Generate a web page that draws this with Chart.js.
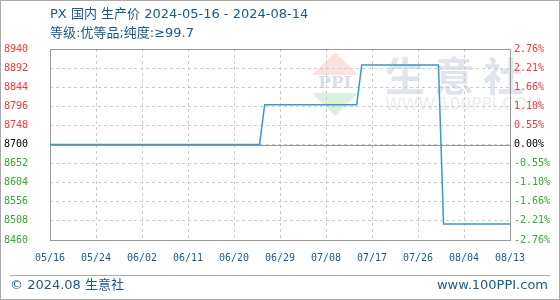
<!DOCTYPE html>
<html>
<head>
<meta charset="utf-8">
<title>PX 国内 生产价</title>
<script src="https://cdn.jsdelivr.net/npm/chart.js@4/dist/chart.umd.min.js"></script>
<style>
  html, body { margin: 0; padding: 0; background: #fff; }
  canvas { display: block; }
</style>
</head>
<body>
<canvas id="pxChart" width="560" height="300"></canvas>
<script>
// ===== Chart data =====
const titleText = 'PX 国内 生产价 2024-05-16 - 2024-08-14';
const subtitleText = '等级:优等品;纯度:≥99.7';
const footerLeft = '© 2024.08 生意社';
const footerRight = 'www.100PPI.com';

// x axis: day offset from 05/16, one label every 9 points
const xTickLabels = ['05/16', '05/24', '06/02', '06/11', '06/20', '06/29', '07/08', '07/17', '07/26', '08/04', '08/13'];

// price series (day offset -> price)
const dayIndex = [0, 41, 42, 60, 61, 76, 77, 90];
const prices = [8700, 8700, 8800, 8800, 8900, 8900, 8500, 8500];

// y axis ticks
const yTicks = [8460, 8508, 8556, 8604, 8652, 8700, 8748, 8796, 8844, 8892, 8940];
const pctLabels = ['-2.76%', '-2.21%', '-1.66%', '-1.10%', '-0.55%', '0.00%', '0.55%', '1.10%', '1.66%', '2.21%', '2.76%'];
const basePrice = 8700;

const RED = '#ff3333';
const GREEN = '#33aa33';
const BLUE_TEXT = '#1b5a8a';
const TICK_FONT = { family: '"DejaVu Sans Mono", monospace', size: 10 };

function tickColor(ctx) {
    const v = ctx.tick.value;
    if (v > basePrice) return RED;
    if (v < basePrice) return GREEN;
    return '#000';
}

function setTicks(scale) {
    scale.ticks = yTicks.map(v => ({ value: v }));
}

// ===== Decorations: header, footer, watermark, frame =====
const decoPlugin = {
    id: 'deco',
    beforeDraw(chart) {
        const ctx = chart.ctx;
        const W = chart.width, H = chart.height;
        ctx.save();
        ctx.fillStyle = '#fff';
        ctx.fillRect(0, 0, W, H);

        // watermark logo
        ctx.fillStyle = '#fbe1df';
        ctx.beginPath();
        ctx.moveTo(335, 52); ctx.lineTo(358, 75); ctx.lineTo(312, 75); ctx.closePath();
        ctx.fill();
        ctx.fillStyle = '#ddf0dd';
        ctx.beginPath();
        ctx.moveTo(312, 93); ctx.lineTo(358, 93); ctx.lineTo(335, 116); ctx.closePath();
        ctx.fill();
        ctx.fillStyle = '#d6ddeb';
        ctx.font = 'bold 17px "DejaVu Serif", serif';
        ctx.textAlign = 'center';
        ctx.textBaseline = 'middle';
        ctx.fillText('PPI', 335, 84);

        ctx.fillStyle = '#dfe4ee';
        ctx.font = 'bold 40px "Noto Sans CJK SC", sans-serif';
        ctx.textAlign = 'left';
        ctx.fillText('生 意 社', 385, 76);
        ctx.fillStyle = '#ececec';
        ctx.font = '17px "DejaVu Sans", sans-serif';
        ctx.fillText('WWW.100PPI.COM', 385, 106);

        // header
        ctx.fillStyle = BLUE_TEXT;
        ctx.font = '13px "DejaVu Sans", "Noto Sans CJK SC", sans-serif';
        ctx.fillText(titleText, 50, 15);
        ctx.fillText(subtitleText, 50, 34);

        // footer
        ctx.fillText(footerLeft, 10, 286);
        ctx.textAlign = 'right';
        ctx.fillText(footerRight, 548, 286);
        ctx.strokeStyle = '#aaa';
        ctx.lineWidth = 1;
        ctx.beginPath();
        ctx.moveTo(10, 275.5); ctx.lineTo(550, 275.5);
        ctx.stroke();

        // outer border
        ctx.strokeRect(0.5, 0.5, W - 1, H - 1);
        ctx.restore();
    },
    beforeDatasetsDraw(chart) {
        const ctx = chart.ctx;
        const a = chart.chartArea;
        const y0 = Math.round(chart.scales.y.getPixelForValue(basePrice)) + 0.5;
        ctx.save();
        ctx.strokeStyle = '#999';
        ctx.lineWidth = 1;
        ctx.beginPath();
        ctx.moveTo(a.left, y0); ctx.lineTo(a.right, y0);
        ctx.stroke();
        ctx.strokeRect(Math.round(a.left) + 0.5, Math.round(a.top) + 0.5,
            Math.round(a.right - a.left), Math.round(a.bottom - a.top));
        ctx.restore();
    }
};

// ===== Build chart =====
const ctx = document.getElementById('pxChart');
new Chart(ctx, {
    type: 'line',
    data: {
        datasets: [{
            label: 'PX',
            data: dayIndex.map((d, i) => ({ x: d, y: prices[i] })),
            borderColor: '#3a97d8',
            borderWidth: 1.5,
            pointRadius: 0,
            tension: 0,
            fill: false
        }]
    },
    options: {
        responsive: false,
        animation: false,
        layout: { padding: { top: 49, left: 0, right: 0, bottom: 0 } },
        plugins: {
            legend: { display: false },
            tooltip: { enabled: false }
        },
        scales: {
            x: {
                type: 'linear',
                min: 0,
                max: 90,
                afterFit: s => { s.height = 60; },
                ticks: {
                    stepSize: 9,
                    autoSkip: false,
                    maxRotation: 0,
                    padding: 12,
                    color: BLUE_TEXT,
                    font: TICK_FONT,
                    callback: (v) => xTickLabels[Math.round(v / 9)] || ''
                },
                grid: { color: '#ccc', drawTicks: false },
                border: { display: false, dash: [3, 3] }
            },
            y: {
                type: 'linear',
                position: 'left',
                min: 8460,
                max: 8940,
                afterBuildTicks: setTicks,
                afterFit: s => { s.width = 50; },
                ticks: {
                    padding: 22,
                    color: tickColor,
                    font: TICK_FONT,
                    callback: v => String(v)
                },
                grid: { color: '#ccc', drawTicks: false },
                border: { display: false, dash: [3, 3] }
            },
            yPct: {
                type: 'linear',
                position: 'right',
                min: 8460,
                max: 8940,
                afterBuildTicks: setTicks,
                afterFit: s => { s.width = 50; },
                ticks: {
                    padding: 4,
                    color: tickColor,
                    font: TICK_FONT,
                    callback: v => pctLabels[yTicks.indexOf(v)]
                },
                grid: { display: false, drawTicks: false },
                border: { display: false }
            }
        }
    },
    plugins: [decoPlugin]
});
</script>
</body>
</html>
